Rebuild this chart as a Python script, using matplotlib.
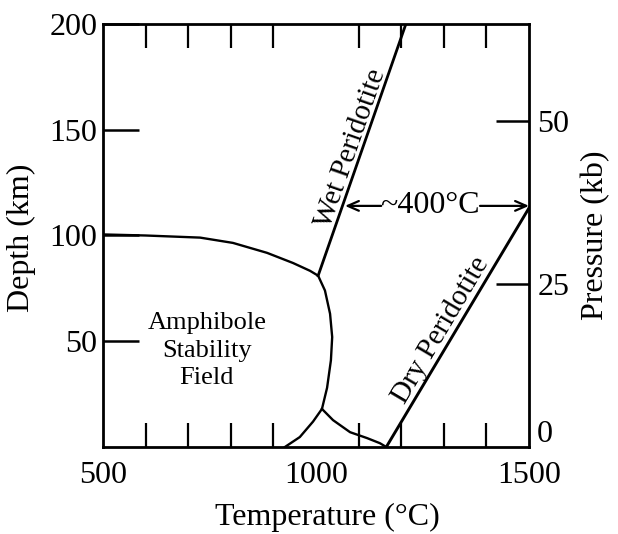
import matplotlib
matplotlib.use("Agg")
import matplotlib.pyplot as plt

plt.rcParams['font.family'] = ['Liberation Serif', 'DejaVu Serif']

# Amphibole stability boundary (temperature °C, depth km)
amph_T = [500, 600, 728, 805, 885, 946, 986, 1005, 1021, 1033, 1038, 1035, 1026, 1014, 993, 962, 927]
amph_D = [100.5, 100, 99, 96.5, 91.8, 87, 83.3, 81, 74, 63, 52, 41, 28, 18, 12, 4.7, 0]

# Lower branch from the junction to the dry solidus
low_T = [1014, 1040, 1080, 1120, 1150, 1165]
low_D = [18, 12.7, 7, 4.2, 1.8, 0]

# Solidi
wet_T = [1005, 1211]
wet_D = [81, 200]
dry_T = [1165, 1500]
dry_D = [0, 113]

arrow_D = 114
arrow_left_T = 1068
arrow_right_T = 1500

x_major = [500, 1000, 1500]
x_minor = [600, 700, 800, 900, 1000, 1100, 1200, 1300, 1400]
y_ticks = [50, 100, 150]
y_labels = [50, 100, 150, 200]
p_ticks = [25, 50]
km_per_kb = 3.08

fig = plt.figure(figsize=(6.18, 5.34), dpi=100)
ax = fig.add_axes([103/618, 87/534, 426/618, 423/534])
ax.set_xlim(500, 1500)
ax.set_ylim(0, 200)

lw = 1.7
ax.plot(amph_T, amph_D, color='black', lw=lw, solid_joinstyle='round')
ax.plot(low_T, low_D, color='black', lw=lw, solid_joinstyle='round')
ax.plot(wet_T, wet_D, color='black', lw=2.0)
ax.plot(dry_T, dry_D, color='black', lw=2.1)

for s in ax.spines.values():
    s.set_linewidth(2.0)

fs = 23
# x ticks
ax.set_xticks(x_major)
ax.set_xticklabels([str(v) for v in x_major], fontsize=fs)
ax.set_xticks(x_minor, minor=True)
ax.tick_params(axis='x', which='major', length=0, pad=10)
ax.tick_params(axis='x', which='minor', direction='in', length=17, width=1.6,
               top=True, bottom=True)
# y ticks
ax.set_yticks(y_labels)
ax.set_yticklabels([str(v) for v in y_labels], fontsize=fs)
ax.tick_params(axis='y', which='major', direction='in', length=26, width=1.8, pad=4)
ax.yaxis.get_major_ticks()[-1].tick1line.set_visible(False)

ax.set_xlabel('Temperature (°C)', fontsize=fs)
ax.xaxis.set_label_coords((327 - 103) / 426, -(503 - 447) / 423)
ax.set_ylabel('Depth (km)', fontsize=fs)
ax.yaxis.set_label_coords(-(103 - 36) / 426, (447 - 238) / 423)

# Pressure axis
ax2 = ax.twinx()
ax2.set_ylim(0, 200 / km_per_kb)
ax2.set_yticks(p_ticks)
ax2.set_yticklabels([str(v) for v in p_ticks], fontsize=fs)
ax2.tick_params(axis='y', which='major', direction='in', length=24, width=1.8, pad=6)
for s in ax2.spines.values():
    s.set_visible(False)
ax2.text(1.0 + 8/426, 12/423, '0', transform=ax2.transAxes, fontsize=fs,
         ha='left', va='center')
ax2.set_ylabel('Pressure (kb)', fontsize=fs)
ax2.yaxis.set_label_coords(1 + (581 - 529) / 426, (447 - 235) / 423)

# Labels
ax.text(744, 45.5, 'Amphibole\nStability\nField', fontsize=19, ha='center', va='center',
        linespacing=1.32)
ax.text(1082, 141, 'Wet Peridotite', fontsize=21, rotation=70.7,
        ha='center', va='center', rotation_mode='anchor')
ax.text(1293, 55, 'Dry Peridotite', fontsize=21, rotation=59.4,
        ha='center', va='center', rotation_mode='anchor')

# ~400°C arrow
ax.text(1268, arrow_D, '~400°C', fontsize=fs, ha='center', va='center')
ap = dict(arrowstyle='->,head_length=0.8,head_width=0.35', lw=1.6, color='black',
          shrinkA=0, shrinkB=0)
ax.annotate('', xy=(arrow_left_T, arrow_D), xytext=(1153, arrow_D), arrowprops=ap)
ax.annotate('', xy=(arrow_right_T, arrow_D), xytext=(1385, arrow_D), arrowprops=ap)

fig.savefig('out.png', dpi=100)
